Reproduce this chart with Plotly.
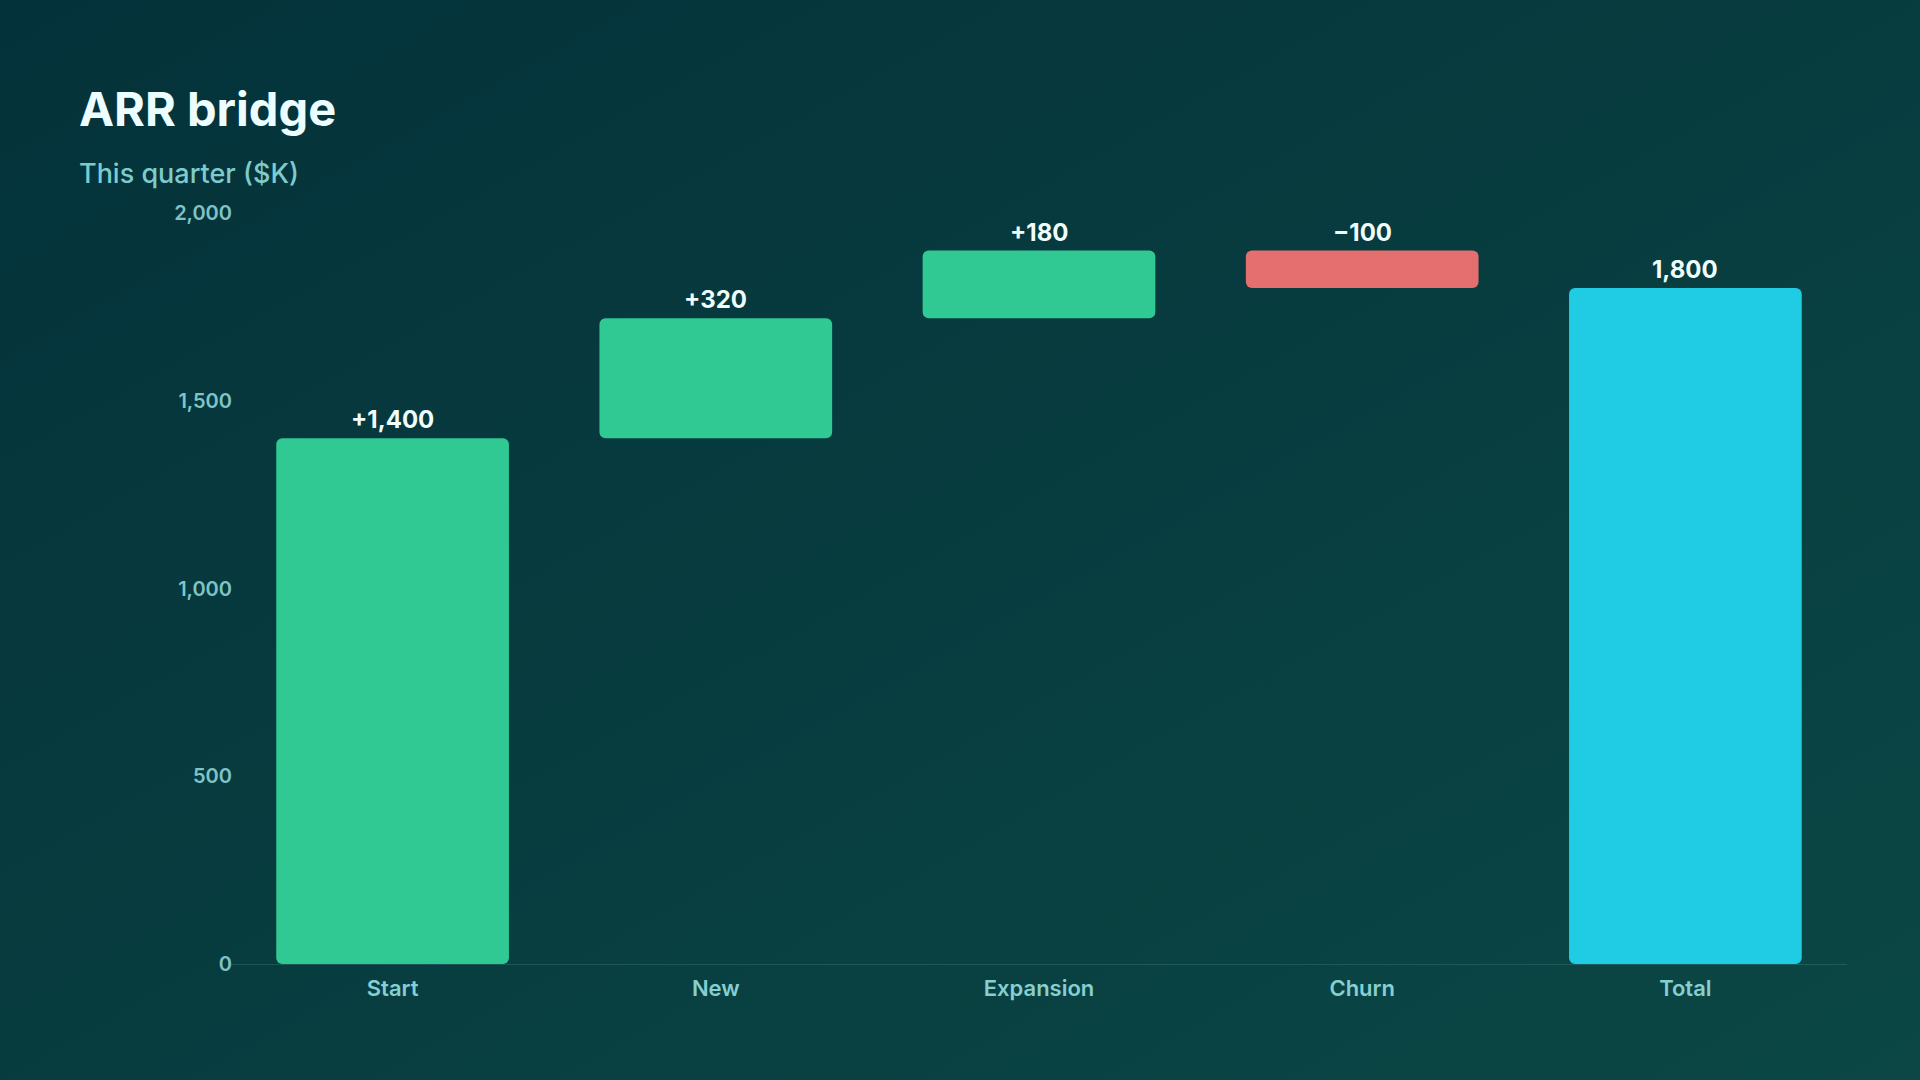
import base64
import plotly.graph_objects as go

# ---- data ----
categories = ["Start", "New", "Expansion", "Churn", "Total"]
changes = [1400, 320, 180, -100]   # start value followed by movements
total_value = 1800
label_texts = ["+1,400", "+320", "+180", "\u2212100", "1,800"]
y_tick_values = [0, 500, 1000, 1500, 2000]
y_tick_labels = ["0", "500", "1,000", "1,500", "2,000"]

# ---- derive bar bases / heights from the data ----
bases, heights, tops = [], [], []
running = 0
for v in changes:
    lo = min(running, running + v)
    hi = max(running, running + v)
    bases.append(lo)
    heights.append(hi - lo)
    tops.append(hi)
    running += v
bases.append(0)
heights.append(total_value)
tops.append(total_value)

colors = []
for v in changes:
    colors.append("#30c994" if v >= 0 else "#e56e6e")
colors.append("#20cbe4")

# ---- layout geometry ----
W, H = 1920, 1080
ml, mr, mt, mb = 231, 73, 213, 116
pw, ph = W - ml - mr, H - mt - mb


def px_x(x):
    return (x - ml) / pw


def px_y(y):
    return (H - mb - y) / ph


svg = (
    '<svg xmlns="http://www.w3.org/2000/svg" width="1920" height="1080">'
    '<defs><linearGradient id="g" x1="0" y1="0" x2="1" y2="1">'
    '<stop offset="0" stop-color="#04323a"/>'
    '<stop offset="1" stop-color="#0b4745"/>'
    '</linearGradient></defs>'
    '<rect width="1920" height="1080" fill="url(#g)"/></svg>'
)
bg_uri = "data:image/svg+xml;base64," + base64.b64encode(svg.encode()).decode()

fig = go.Figure()
fig.add_trace(
    go.Bar(
        x=categories,
        y=heights,
        base=bases,
        marker=dict(color=colors, line=dict(width=0)),
        hoverinfo="skip",
        showlegend=False,
    )
)

annotations = []
for c, t, txt in zip(categories, tops, label_texts):
    annotations.append(
        dict(
            x=c, y=t, xref="x", yref="y", text=txt, showarrow=False,
            yanchor="bottom", yshift=2,
            font=dict(family="Inter", size=24, color="#f0fdfd", weight=700),
        )
    )

annotations.append(
    dict(
        x=px_x(77), y=px_y(108), xref="paper", yref="paper",
        text="ARR bridge", showarrow=False, xanchor="left", yanchor="middle",
        font=dict(family="Inter", size=47, color="#ecfeff", weight=700),
    )
)
annotations.append(
    dict(
        x=px_x(77), y=px_y(173), xref="paper", yref="paper",
        text="This quarter ($K)", showarrow=False, xanchor="left", yanchor="middle",
        font=dict(family="Inter", size=27, color="#7ecbcc", weight=500),
    )
)

fig.update_layout(
    width=W,
    height=H,
    margin=dict(l=ml, r=mr, t=mt, b=mb),
    paper_bgcolor="#06363b",
    plot_bgcolor="rgba(0,0,0,0)",
    bargap=0.28,
    barcornerradius=6,
    annotations=annotations,
    images=[
        dict(
            source=bg_uri, xref="paper", yref="paper",
            x=px_x(0), y=px_y(0), sizex=W / pw, sizey=H / ph,
            xanchor="left", yanchor="top", sizing="stretch", layer="below",
        )
    ],
    xaxis=dict(
        showgrid=False, zeroline=False, showline=True,
        linecolor="rgba(120,200,200,0.18)", linewidth=1,
        ticks="", tickfont=dict(family="Inter", size=22, color="#86cfd0", weight=600),
        ticklabelstandoff=5,
    ),
    yaxis=dict(
        range=[0, 2000], showgrid=False, zeroline=False, showline=False,
        tickvals=y_tick_values, ticktext=y_tick_labels, ticks="",
        tickfont=dict(family="Inter", size=20, color="#7fc4c6", weight=600),
        ticklabelstandoff=-2,
    ),
)

fig.write_html(
    "out.html",
    config={"displayModeBar": False},
    post_script="document.body.style.margin='0';document.body.style.overflow='hidden';",
)
